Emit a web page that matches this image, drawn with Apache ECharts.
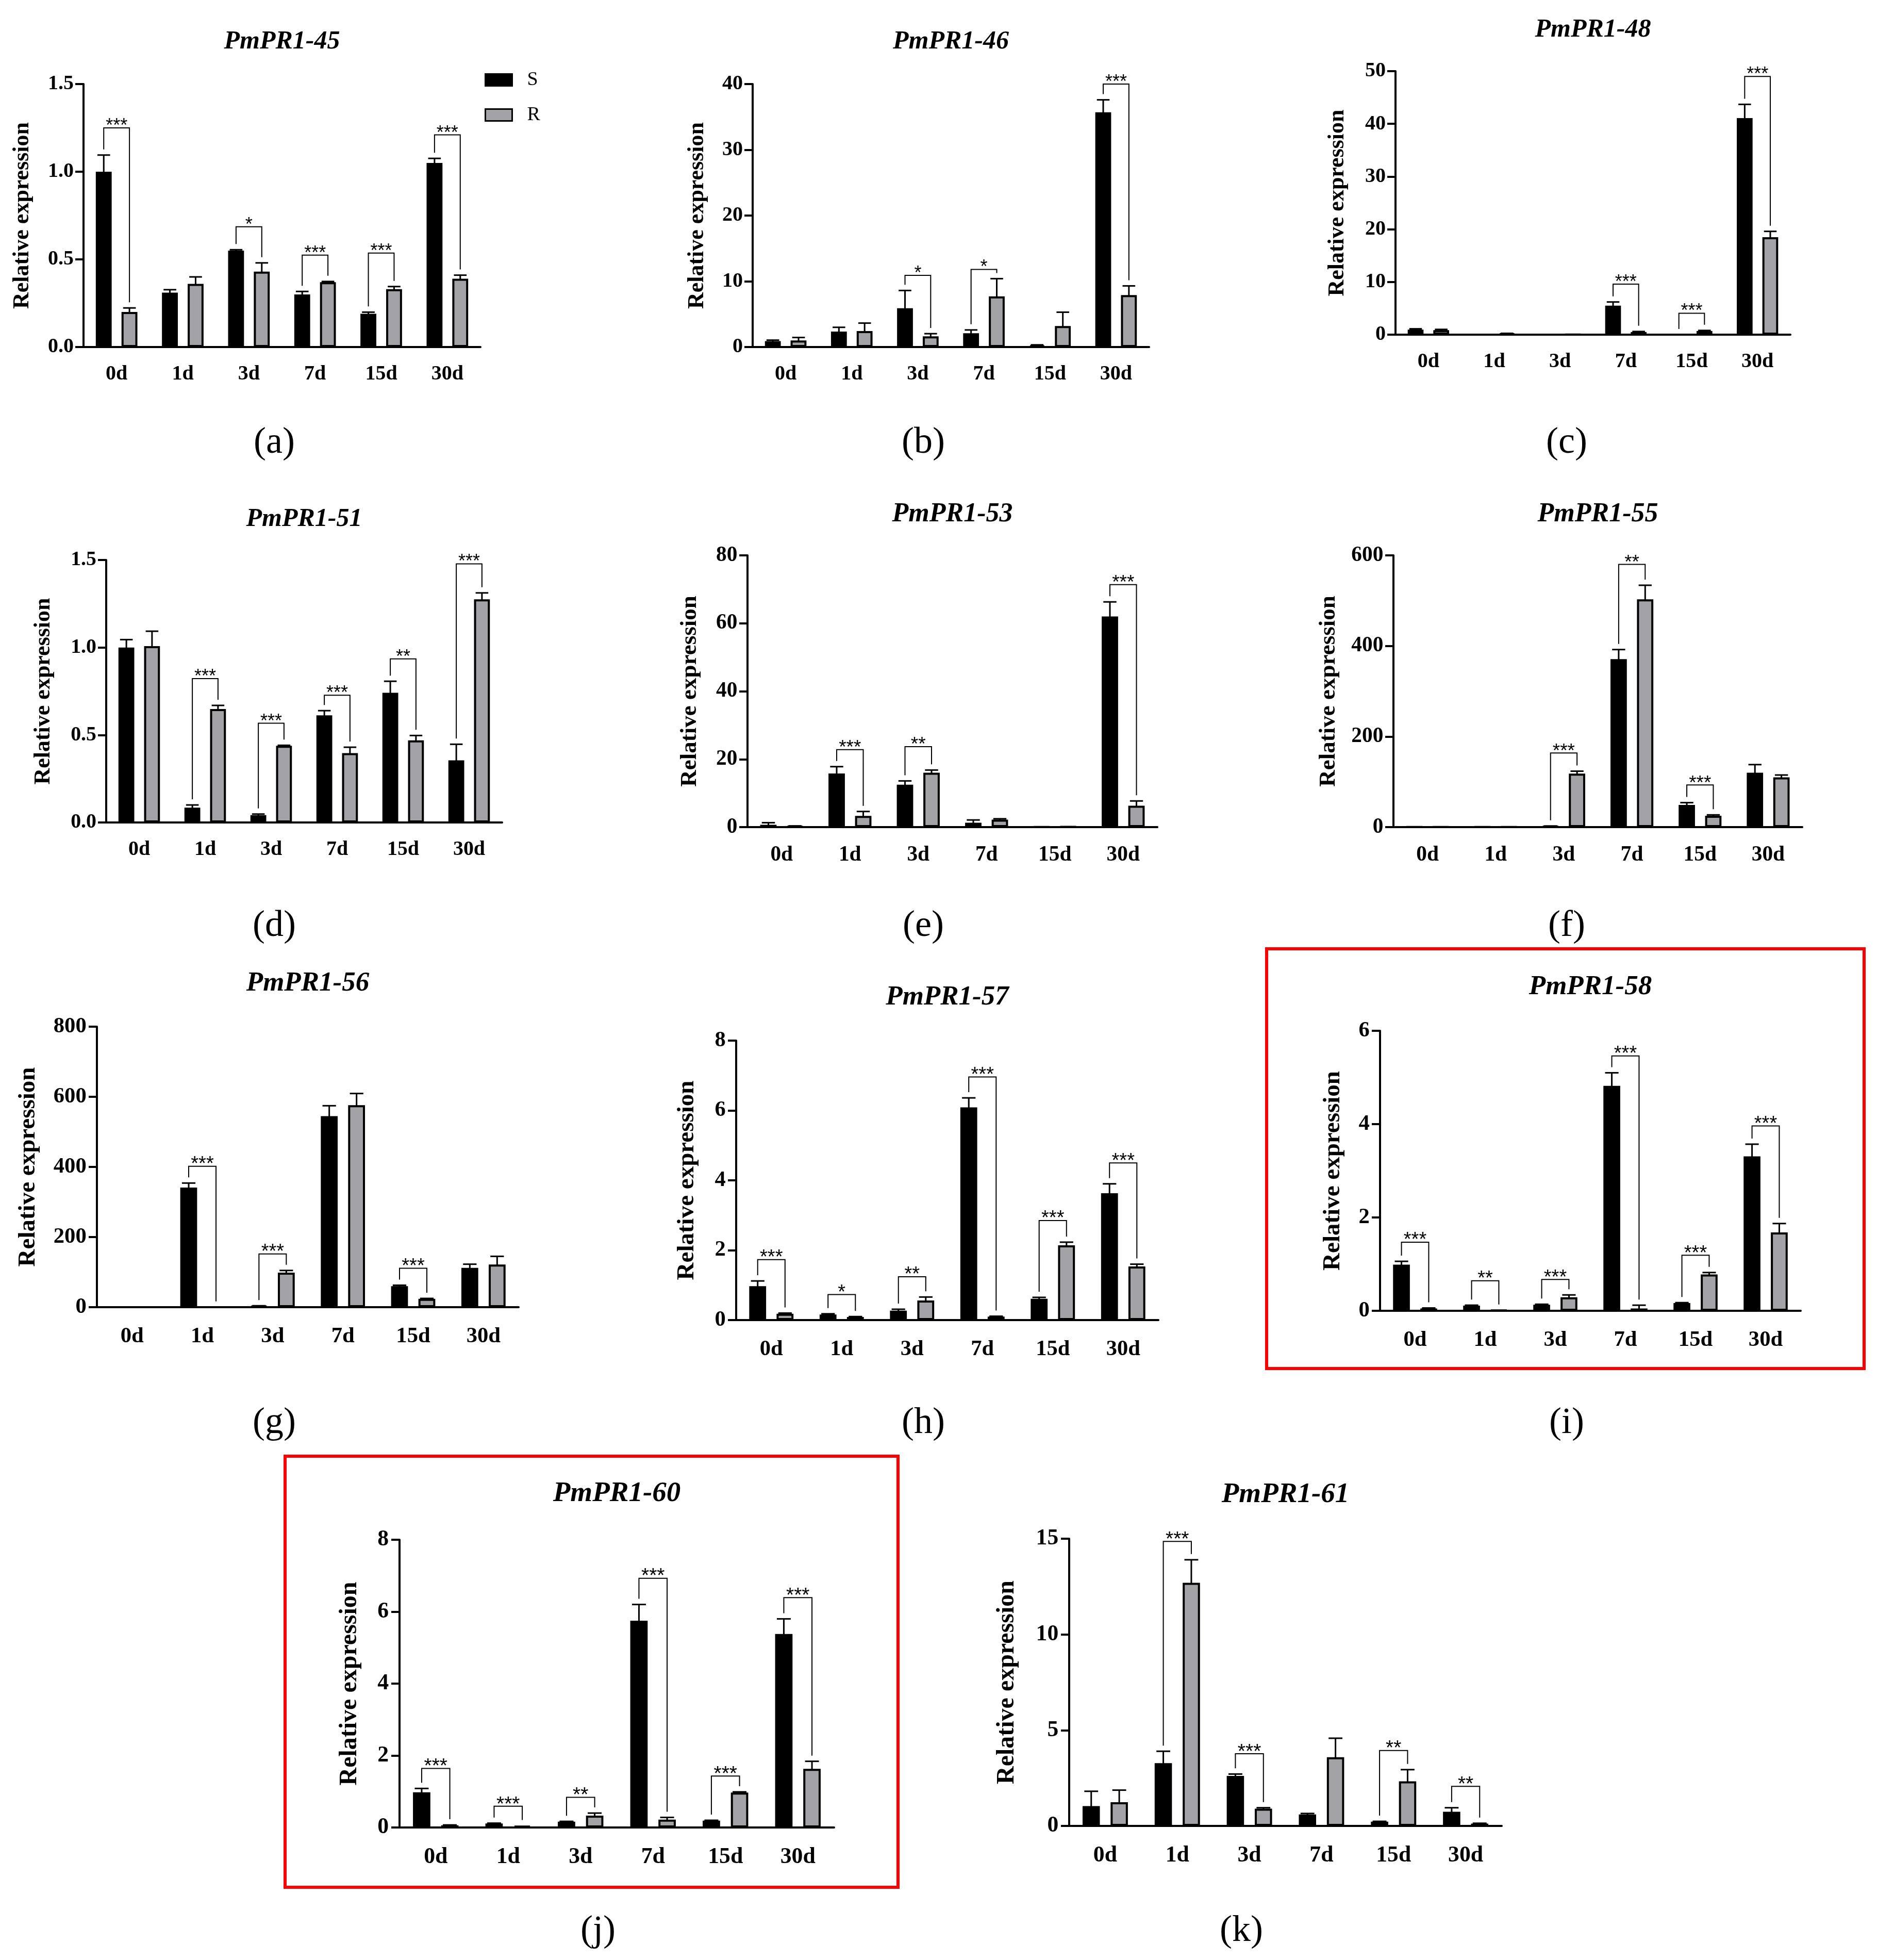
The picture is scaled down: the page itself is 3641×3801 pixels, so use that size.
<!DOCTYPE html>
<html>
<head>
<meta charset="utf-8">
<title>PmPR1 relative expression</title>
<script src="https://cdn.jsdelivr.net/npm/echarts@6.0.0/dist/echarts.min.js"></script>
<style>
  html, body {margin: 0; padding: 0; background: #fff;}
  #main {width: 3641px; height: 3801px;}
</style>
</head>
<body>
<div id="main"></div>
<script>
const days = ['0d', '1d', '3d', '7d', '15d', '30d'];

// PmPR1-45
const pr45Ticks = ['0.0', '0.5', '1.0', '1.5'];
const pr45S = [1.0, 0.31, 0.55, 0.30, 0.19, 1.05];
const pr45SErr = [0.095, 0.017, 0.005, 0.017, 0.009, 0.026];
const pr45R = [0.20, 0.36, 0.43, 0.37, 0.33, 0.39];
const pr45RErr = [0.023, 0.04, 0.05, 0.004, 0.015, 0.02];
const pr45Sig = [[0, 1.25, '***'], [2, 0.686, '*'], [3, 0.524, '***'], [4, 0.536, '***'], [5, 1.21, '***']];

// PmPR1-46
const pr46Ticks = ['0', '10', '20', '30', '40'];
const pr46S = [0.9, 2.35, 5.9, 2.1, 0.23, 35.7];
const pr46SErr = [0.15, 0.65, 2.7, 0.5, 0.1, 1.9];
const pr46R = [1.0, 2.44, 1.63, 7.7, 3.2, 7.9];
const pr46RErr = [0.45, 1.2, 0.4, 2.7, 2.1, 1.4];
const pr46Sig = [[2, 10.9, '*'], [3, 11.8, '*'], [5, 40.0, '***']];

// PmPR1-48
const pr48Ticks = ['0', '10', '20', '30', '40', '50'];
const pr48S = [0.96, 0, 0, 5.5, 0, 41.1];
const pr48SErr = [0.15, 0, 0, 0.7, 0, 2.6];
const pr48R = [0.85, 0.2, 0.05, 0.5, 0.7, 18.5];
const pr48RErr = [0.15, 0.05, 0, 0.1, 0.1, 1.1];
const pr48Sig = [[3, 9.6, '***'], [4, 4.07, '***'], [5, 49.0, '***']];

// PmPR1-51
const pr51Ticks = ['0.0', '0.5', '1.0', '1.5'];
const pr51S = [1.0, 0.085, 0.042, 0.612, 0.741, 0.355];
const pr51SErr = [0.045, 0.015, 0.006, 0.027, 0.066, 0.092];
const pr51R = [1.008, 0.648, 0.438, 0.396, 0.469, 1.275];
const pr51RErr = [0.085, 0.021, 0.003, 0.034, 0.028, 0.037];
const pr51Sig = [[1, 0.822, '***'], [2, 0.567, '***'], [3, 0.727, '***'], [4, 0.935, '**'], [5, 1.478, '***']];

// PmPR1-53
const pr53Ticks = ['0', '20', '40', '60', '80'];
const pr53S = [0.7, 15.8, 12.5, 1.3, 0.1, 62.0];
const pr53SErr = [0.6, 2.0, 1.1, 0.8, 0, 4.3];
const pr53R = [0.26, 3.3, 16.0, 2.2, 0.15, 6.3];
const pr53RErr = [0.1, 1.3, 0.8, 0.25, 0, 1.4];
const pr53Sig = [[1, 22.8, '***'], [2, 23.7, '**'], [5, 71.4, '***']];

// PmPR1-55
const pr55Ticks = ['0', '200', '400', '600'];
const pr55S = [0.5, 0.5, 2, 371, 49, 120];
const pr55SErr = [0, 0, 0.5, 21, 5, 18];
const pr55R = [0.3, 0.3, 118, 503, 25, 110];
const pr55RErr = [0, 0, 5.5, 31, 2, 5];
const pr55Sig = [[2, 163.6, '***'], [3, 580, '**'], [4, 93, '***']];

// PmPR1-56
const pr56Ticks = ['0', '200', '400', '600', '800'];
const pr56S = [0.3, 341, 3.6, 545, 60, 112];
const pr56SErr = [0, 13, 0.5, 29.5, 2.6, 10.6];
const pr56R = [0.3, 0.3, 98.4, 576, 24, 121.7];
const pr56RErr = [0, 0, 6.3, 33.4, 1, 23.3];
const pr56Sig = [[1, 401.8, '***'], [2, 152, '***'], [4, 111, '***']];

// PmPR1-57
const pr57Ticks = ['0', '2', '4', '6', '8'];
const pr57S = [0.97, 0.16, 0.27, 6.09, 0.61, 3.63];
const pr57SErr = [0.15, 0.02, 0.04, 0.27, 0.04, 0.27];
const pr57R = [0.18, 0.09, 0.56, 0.1, 2.14, 1.535];
const pr57RErr = [0.02, 0.01, 0.1, 0.01, 0.09, 0.065];
const pr57Sig = [[0, 1.73, '***'], [1, 0.73, '*'], [2, 1.24, '**'], [3, 6.96, '***'], [4, 2.85, '***'], [5, 4.5, '***']];

// PmPR1-58
const pr58Ticks = ['0', '2', '4', '6'];
const pr58S = [0.99, 0.11, 0.13, 4.82, 0.165, 3.31];
const pr58SErr = [0.07, 0.01, 0.01, 0.28, 0.01, 0.26];
const pr58R = [0.05, 0.015, 0.29, 0.05, 0.78, 1.68];
const pr58RErr = [0.01, 0, 0.05, 0.07, 0.04, 0.19];
const pr58Sig = [[0, 1.47, '***'], [1, 0.645, '**'], [2, 0.67, '***'], [3, 5.46, '***'], [4, 1.19, '***'], [5, 3.96, '***']];

// PmPR1-60
const pr60Ticks = ['0', '2', '4', '6', '8'];
const pr60S = [0.98, 0.11, 0.16, 5.75, 0.19, 5.38];
const pr60SErr = [0.105, 0.01, 0.01, 0.45, 0.01, 0.42];
const pr60R = [0.06, 0.05, 0.33, 0.22, 0.97, 1.63];
const pr60RErr = [0.01, 0, 0.07, 0.06, 0.02, 0.21];
const pr60Sig = [[0, 1.64, '***'], [1, 0.59, '***'], [2, 0.84, '**'], [3, 6.93, '***'], [4, 1.43, '***'], [5, 6.39, '***']];

// PmPR1-61
const pr61Ticks = ['0', '5', '10', '15'];
const pr61S = [1.04, 3.28, 2.61, 0.6, 0.22, 0.74];
const pr61SErr = [0.77, 0.62, 0.1, 0.05, 0.02, 0.21];
const pr61R = [1.24, 12.7, 0.9, 3.59, 2.33, 0.12];
const pr61RErr = [0.63, 1.2, 0.05, 0.99, 0.61, 0.02];
const pr61Sig = [[1, 14.86, '***'], [2, 3.77, '***'], [4, 3.94, '**'], [5, 2.07, '**']];

const panels = [
  {gene: 'PmPR1-45', tag: '(a)', ticks: pr45Ticks, s: pr45S, sErr: pr45SErr, r: pr45R, rErr: pr45RErr, sig: pr45Sig},
  {gene: 'PmPR1-46', tag: '(b)', ticks: pr46Ticks, s: pr46S, sErr: pr46SErr, r: pr46R, rErr: pr46RErr, sig: pr46Sig},
  {gene: 'PmPR1-48', tag: '(c)', ticks: pr48Ticks, s: pr48S, sErr: pr48SErr, r: pr48R, rErr: pr48RErr, sig: pr48Sig},
  {gene: 'PmPR1-51', tag: '(d)', ticks: pr51Ticks, s: pr51S, sErr: pr51SErr, r: pr51R, rErr: pr51RErr, sig: pr51Sig},
  {gene: 'PmPR1-53', tag: '(e)', ticks: pr53Ticks, s: pr53S, sErr: pr53SErr, r: pr53R, rErr: pr53RErr, sig: pr53Sig},
  {gene: 'PmPR1-55', tag: '(f)', ticks: pr55Ticks, s: pr55S, sErr: pr55SErr, r: pr55R, rErr: pr55RErr, sig: pr55Sig},
  {gene: 'PmPR1-56', tag: '(g)', ticks: pr56Ticks, s: pr56S, sErr: pr56SErr, r: pr56R, rErr: pr56RErr, sig: pr56Sig},
  {gene: 'PmPR1-57', tag: '(h)', ticks: pr57Ticks, s: pr57S, sErr: pr57SErr, r: pr57R, rErr: pr57RErr, sig: pr57Sig},
  {gene: 'PmPR1-58', tag: '(i)', ticks: pr58Ticks, s: pr58S, sErr: pr58SErr, r: pr58R, rErr: pr58RErr, sig: pr58Sig},
  {gene: 'PmPR1-60', tag: '(j)', ticks: pr60Ticks, s: pr60S, sErr: pr60SErr, r: pr60R, rErr: pr60RErr, sig: pr60Sig},
  {gene: 'PmPR1-61', tag: '(k)', ticks: pr61Ticks, s: pr61S, sErr: pr61SErr, r: pr61R, rErr: pr61RErr, sig: pr61Sig}
];

// plot boxes in px: axis left, axis top, axis right, zero line, title y, y-name x, tag x, tag y
const boxes = [
  [162, 163, 932, 673, 81, 44, 532, 859],
  [1460, 163, 2229, 673, 81, 1353, 1791, 859],
  [2707, 138, 3473, 649, 58, 2595, 3039, 859],
  [206, 1086, 974, 1595, 1007, 85, 532, 1796],
  [1450, 1077, 2245, 1604, 998, 1338, 1791, 1796],
  [2703, 1077, 3496, 1604, 998, 2577, 3039, 1796],
  [188, 1991, 1006, 2535, 1907, 55, 532, 2760],
  [1428, 2018, 2247, 2560, 1934, 1333, 1791, 2760],
  [2677, 1999, 3493, 2542, 1914, 2586, 3039, 2760],
  [775, 2986, 1618, 3544, 2897, 679, 1160, 3745],
  [2074, 2984, 2913, 3541, 2899, 1954, 2408, 3745]
];

// red frames around (i) and (j)
const frames = [
  [2457, 1840, 1159, 814],
  [553, 2824, 1189, 836]
];

const SERIF = '"Liberation Serif", "Times New Roman", serif';
const SANS = '"Liberation Sans", Arial, sans-serif';
const GREY = '#a3a3a7';
const BAR_FRAC = 0.24;
const GAP_FRAC = 0.62;

function barCenters(api, i) {
  const band = api.size([1, 0])[0];
  const w = band * BAR_FRAC;
  const half = (w + w * GAP_FRAC) / 2;
  const cx = api.coord([i, 0])[0];
  return {w: w, sx: cx - half, rx: cx + half};
}

function errorBars(params, api) {
  const i = api.value(0);
  const c = barCenters(api, i);
  const cap = c.w * 0.4;
  const items = [];
  [[c.sx, api.value(1), api.value(2)], [c.rx, api.value(3), api.value(4)]].forEach(function (b) {
    const x = b[0], v = b[1], e = b[2];
    if (!(e > 0)) return;
    const top = api.coord([i, v + e])[1];
    const bot = api.coord([i, Math.max(v - e, 0)])[1];
    const st = {stroke: '#000', lineWidth: 3};
    items.push({type: 'line', shape: {x1: x, y1: bot, x2: x, y2: top}, style: st});
    items.push({type: 'line', shape: {x1: x - cap, y1: top, x2: x + cap, y2: top}, style: st});
    items.push({type: 'line', shape: {x1: x - cap, y1: bot, x2: x + cap, y2: bot}, style: st});
  });
  return {type: 'group', children: items};
}

function bracketRenderer(p, sc) {
  return function (params, api) {
    const i = api.value(0);
    const c = barCenters(api, i);
    const yl = api.coord([i, api.value(1)])[1];
    const leftEnd = api.coord([i, p.s[i] + p.sErr[i]])[1] - 11;
    const rightEnd = api.coord([i, p.r[i] + p.rErr[i]])[1] - 11;
    return {
      type: 'group',
      children: [
        {
          type: 'polyline',
          shape: {points: [[c.sx, leftEnd], [c.sx, yl], [c.rx, yl], [c.rx, rightEnd]]},
          style: {stroke: '#000', lineWidth: 2, fill: 'none'}
        },
        {
          type: 'text',
          style: {
            text: p.sig[params.dataIndex][2],
            x: (c.sx + c.rx) / 2, y: yl - 3,
            align: 'center', verticalAlign: 'middle',
            font: Math.round(36 * sc) + 'px ' + SANS, fill: '#000'
          }
        }
      ]
    };
  };
}

const option = {
  backgroundColor: '#fff',
  animation: false,
  grid: [], xAxis: [], yAxis: [], series: [], graphic: [],
  legend: {
    data: [
      {name: 'S', itemStyle: {color: '#000', borderColor: '#000', borderWidth: 3}},
      {name: 'R', itemStyle: {color: GREY, borderColor: '#000', borderWidth: 3}}
    ],
    orient: 'vertical', left: 940, top: 136, padding: 0,
    icon: 'rect', itemWidth: 52, itemHeight: 23, itemGap: 30,
    selectedMode: false,
    textStyle: {fontFamily: SERIF, fontSize: 38, color: '#000', padding: [0, 0, 0, 24]}
  }
};

panels.forEach(function (p, k) {
  const b = boxes[k];
  const left = b[0], top = b[1], right = b[2], zero = b[3];
  const sc = (zero - top) / 510;
  const maxV = parseFloat(p.ticks[p.ticks.length - 1]);
  const step = parseFloat(p.ticks[1]);

  option.grid.push({left: left, top: top, width: right - left, height: zero - top});

  option.xAxis.push({
    type: 'category', gridIndex: k, data: days,
    axisLine: {lineStyle: {color: '#000', width: 4}},
    axisTick: {alignWithLabel: true, length: 17, lineStyle: {color: '#000', width: 4}},
    axisLabel: {interval: 0, margin: 33 * sc, color: '#000', fontFamily: SERIF, fontWeight: 'bold', fontSize: 40 * sc}
  });

  option.yAxis.push({
    type: 'value', gridIndex: k, min: 0, max: maxV, interval: step,
    splitLine: {show: false},
    axisLine: {show: true, lineStyle: {color: '#000', width: 4}},
    axisTick: {show: true, length: 16, lineStyle: {color: '#000', width: 4}},
    axisLabel: {
      margin: 19 * sc, color: '#000', fontFamily: SERIF, fontWeight: 'bold', fontSize: 40 * sc,
      formatter: function (v) { return p.ticks[Math.round(v / step)]; }
    }
  });

  option.series.push({
    name: 'S', type: 'bar', xAxisIndex: k, yAxisIndex: k, data: p.s,
    barWidth: (BAR_FRAC * 100) + '%', barGap: (GAP_FRAC * 100) + '%',
    itemStyle: {color: '#000', borderColor: '#000', borderWidth: 4}
  });
  option.series.push({
    name: 'R', type: 'bar', xAxisIndex: k, yAxisIndex: k, data: p.r,
    barWidth: (BAR_FRAC * 100) + '%', barGap: (GAP_FRAC * 100) + '%',
    itemStyle: {color: GREY, borderColor: '#000', borderWidth: 4}
  });
  option.series.push({
    name: 'err', type: 'custom', xAxisIndex: k, yAxisIndex: k, silent: true,
    renderItem: errorBars,
    encode: {x: 0, y: 1},
    data: days.map(function (d, i) { return [i, p.s[i], p.sErr[i], p.r[i], p.rErr[i]]; })
  });
  option.series.push({
    name: 'sig', type: 'custom', xAxisIndex: k, yAxisIndex: k, silent: true,
    renderItem: bracketRenderer(p, sc),
    encode: {x: 0, y: 1},
    data: p.sig.map(function (s) { return [s[0], s[1]]; })
  });

  // gene title
  option.graphic.push({
    type: 'text', x: (left + right) / 2, y: b[4],
    style: {
      text: p.gene, align: 'center', verticalAlign: 'middle', fill: '#000',
      font: 'italic bold ' + Math.round(50 * sc) + 'px ' + SERIF
    }
  });
  // y axis name
  option.graphic.push({
    type: 'text', x: b[5], y: (top + zero) / 2, rotation: Math.PI / 2,
    style: {
      text: 'Relative expression', align: 'center', verticalAlign: 'middle', fill: '#000',
      font: 'bold ' + Math.round(44 * sc) + 'px ' + SERIF
    }
  });
  // panel tag
  option.graphic.push({
    type: 'text', x: b[6], y: b[7],
    style: {
      text: p.tag, align: 'center', verticalAlign: 'middle', fill: '#000',
      font: '72px ' + SERIF
    }
  });
});

frames.forEach(function (f) {
  option.graphic.push({
    type: 'rect', shape: {x: f[0], y: f[1], width: f[2], height: f[3]},
    style: {fill: 'none', stroke: '#ff0000', lineWidth: 6}
  });
});

const chart = echarts.init(document.getElementById('main'));
chart.setOption(option);
</script>
</body>
</html>
